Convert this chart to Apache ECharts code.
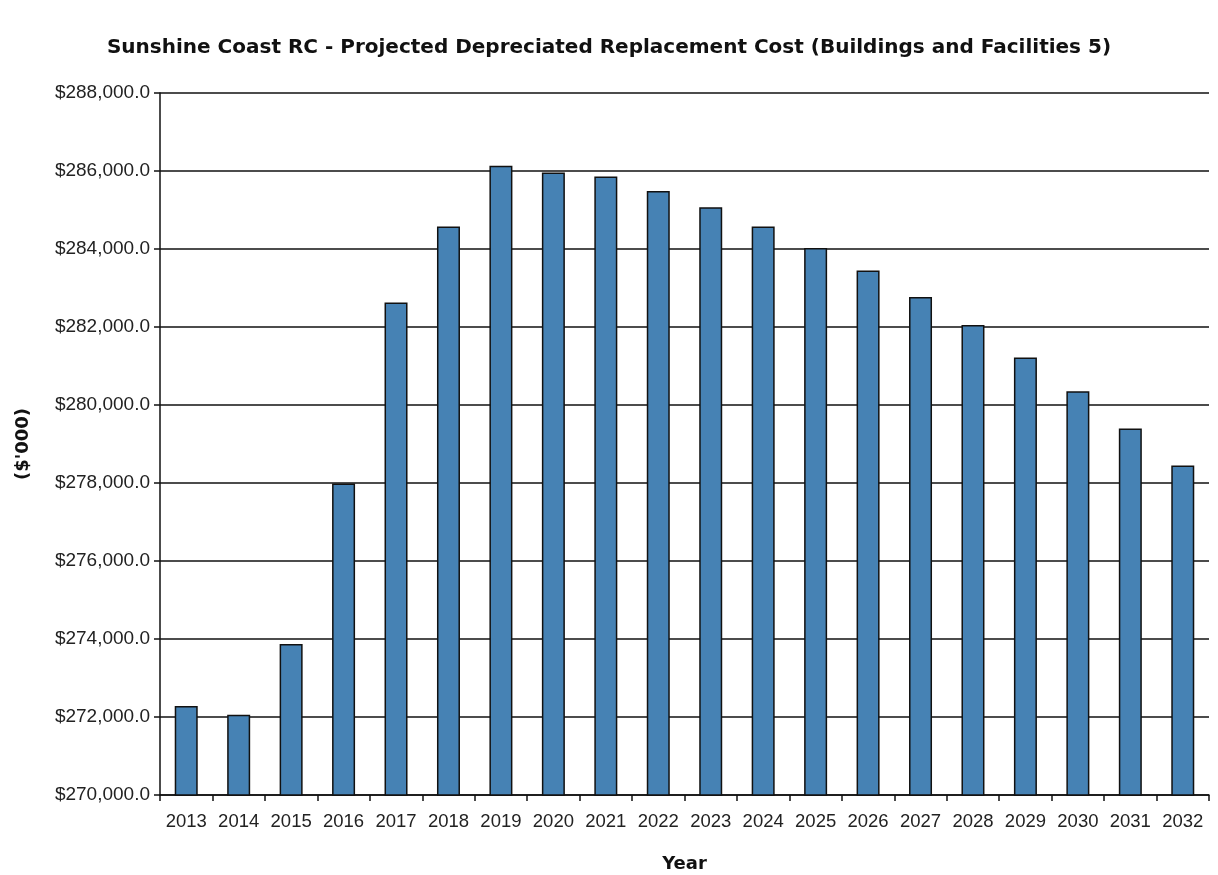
<!DOCTYPE html>
<html>
<head>
<meta charset="utf-8">
<script src="https://cdn.jsdelivr.net/npm/echarts@6/dist/echarts.min.js"></script>
<style>html,body{margin:0;padding:0;background:#fff}#c{width:1218px;height:875px}</style>
</head>
<body>
<div id="c"></div>
<script>
const titleText = "Sunshine Coast RC - Projected Depreciated Replacement Cost (Buildings and Facilities 5)";
const years = ["2013","2014","2015","2016","2017","2018","2019","2020","2021","2022","2023","2024","2025","2026","2027","2028","2029","2030","2031","2032"];
const drcValues = [272280, 272060, 273870, 277990, 282630, 284580, 286135, 285960, 285860, 285490, 285070, 284580, 284025, 283450, 282770, 282050, 281220, 280350, 279400, 278450];
const yMin = 270000, yMax = 288000, yStep = 2000;

const chart = echarts.init(document.getElementById('c'));
chart.setOption({
  animation: false,
  backgroundColor: '#fff',
  title: {
    text: titleText, left: 'center', top: 33,
    textStyle: { fontFamily: 'DejaVu Sans', fontWeight: 'bold', fontSize: 20, color: '#111' }
  },
  grid: { left: 160, right: 9, top: 93, bottom: 80, outerBoundsMode: 'none', containLabel: false },
  xAxis: {
    type: 'category', data: years,
    name: 'Year', nameLocation: 'middle', nameGap: 60,
    nameTextStyle: { fontFamily: 'DejaVu Sans', fontWeight: 'bold', fontSize: 18, color: '#111' },
    axisLine: { lineStyle: { color: '#111', width: 1.5 } },
    axisTick: { show: true, length: 6, lineStyle: { color: '#111', width: 1.5 } },
    axisLabel: { interval: 0, hideOverlap: false, fontFamily: 'Liberation Sans', fontSize: 18.5, color: '#222', margin: 17 }
  },
  yAxis: {
    type: 'value', min: yMin, max: yMax, interval: yStep,
    name: "($'000)", nameLocation: 'middle', nameGap: 128, nameRotate: 90,
    nameTextStyle: { fontFamily: 'DejaVu Sans', fontWeight: 'bold', fontSize: 18, color: '#111' },
    axisLine: { show: true, lineStyle: { color: '#111', width: 1.5 } },
    axisTick: { show: true, length: 6, lineStyle: { color: '#111', width: 1.5 } },
    splitLine: { show: true, lineStyle: { color: '#111', width: 1.5 } },
    axisLabel: {
      fontFamily: 'Liberation Sans', fontSize: 19, color: '#222', margin: 10,
      formatter: v => '$' + v.toLocaleString('en-US') + '.0'
    }
  },
  series: [{
    type: 'bar', data: drcValues, barWidth: 23,
    itemStyle: { color: '#4682B4', borderColor: '#111', borderWidth: 1.5 }
  }]
});
</script>
</body>
</html>
